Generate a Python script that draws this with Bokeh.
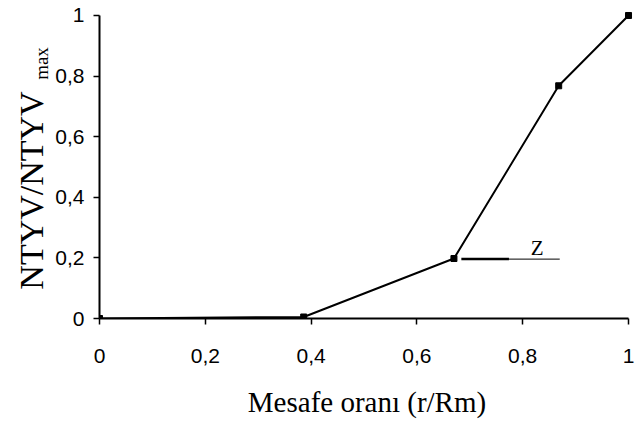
import math
from bokeh.plotting import figure
from bokeh.layouts import row
from bokeh.models import Label, FixedTicker, Range1d
from bokeh.embed import file_html
from bokeh.resources import INLINE

# data
distance_ratio = [0.0, 0.386, 0.670, 0.868, 1.0]
ntyv_ratio = [0.0, 0.005, 0.198, 0.768, 1.0]
x_ticks = [0, 0.2, 0.4, 0.6, 0.8, 1]
x_tick_labels = ["0", "0,2", "0,4", "0,6", "0,8", "1"]
y_ticks = [0, 0.2, 0.4, 0.6, 0.8, 1]
y_tick_labels = ["0", "0,2", "0,4", "0,6", "0,8", "1"]
annotation_text = "Z"
leader_x = [0.684, 0.774, 0.870]
leader_y = 0.196
x_title = "Mesafe oranı (r/Rm)"
y_title_main = "NTYV/NTYV"
y_title_sub = "max"

H = 428
LW = 52                 # width of the strip holding the y title
TOP, BOTTOM = 9, 110    # borders shared by both figures (row aligns the frames)

# ---- left strip carrying the vertical y title (1 data unit = 1 pixel, y measured from bottom)
t = figure(width=LW, height=H, x_range=Range1d(0, LW), y_range=Range1d(BOTTOM, H - TOP),
           output_backend="svg", toolbar_location=None,
           x_axis_location=None, y_axis_location=None,
           min_border_left=0, min_border_right=0, min_border_top=TOP, min_border_bottom=BOTTOM)
t.outline_line_color = None
t.xgrid.visible = False
t.ygrid.visible = False
t.add_layout(Label(x=31, y=H - 190, text=y_title_main, angle=math.pi / 2,
                   text_font="Liberation Serif", text_font_size="34px", text_color="black",
                   text_align="center", text_baseline="middle"))
t.add_layout(Label(x=41, y=H - 63, text=y_title_sub, angle=math.pi / 2,
                   text_font="Liberation Serif", text_font_size="19px", text_color="black",
                   text_align="center", text_baseline="middle"))

# ---- main chart
p = figure(width=640 - LW, height=H, x_range=Range1d(0, 1.0113), y_range=Range1d(0, 1.0198),
           output_backend="svg", toolbar_location=None,
           min_border_left=97 - LW, min_border_right=6, min_border_top=TOP, min_border_bottom=BOTTOM)
p.outline_line_color = None
p.xgrid.visible = False
p.ygrid.visible = False

for ax, ticks, labels in ((p.xaxis[0], x_ticks, x_tick_labels), (p.yaxis[0], y_ticks, y_tick_labels)):
    ax.ticker = FixedTicker(ticks=ticks)
    ax.major_label_overrides = {tk: lb for tk, lb in zip(ticks, labels)}
    ax.bounds = (0, 1)
    ax.axis_line_color = "black"
    ax.axis_line_width = 2
    ax.major_tick_line_color = "black"
    ax.major_tick_line_width = 1.5
    ax.major_tick_in = 0
    ax.major_tick_out = 6
    ax.minor_tick_line_color = None
    ax.major_label_text_font = "Liberation Sans"
    ax.major_label_text_font_size = "21px"
    ax.major_label_text_color = "black"
p.xaxis[0].major_label_standoff = 24
p.yaxis[0].major_label_standoff = 9
p.xaxis[0].axis_label = x_title
p.xaxis[0].axis_label_text_font = "Liberation Serif"
p.xaxis[0].axis_label_text_font_style = "normal"
p.xaxis[0].axis_label_text_font_size = "29px"
p.xaxis[0].axis_label_text_color = "black"
p.xaxis[0].axis_label_standoff = 20

p.line(distance_ratio, ntyv_ratio, line_color="black", line_width=2)
p.scatter(distance_ratio, ntyv_ratio, marker="square", size=6, color="black")

# leader line to the Z label
p.line(leader_x[:2], [leader_y, leader_y], line_color="black", line_width=2.5)
p.line(leader_x[1:], [leader_y, leader_y], line_color="black", line_width=1)
p.add_layout(Label(x=0.8154, y=0.2343, text=annotation_text, text_font="Liberation Serif",
                   text_font_size="21px", text_color="black", text_baseline="alphabetic"))

layout = row(t, p, spacing=0)
open("out.html", "w").write(file_html(layout, INLINE))
